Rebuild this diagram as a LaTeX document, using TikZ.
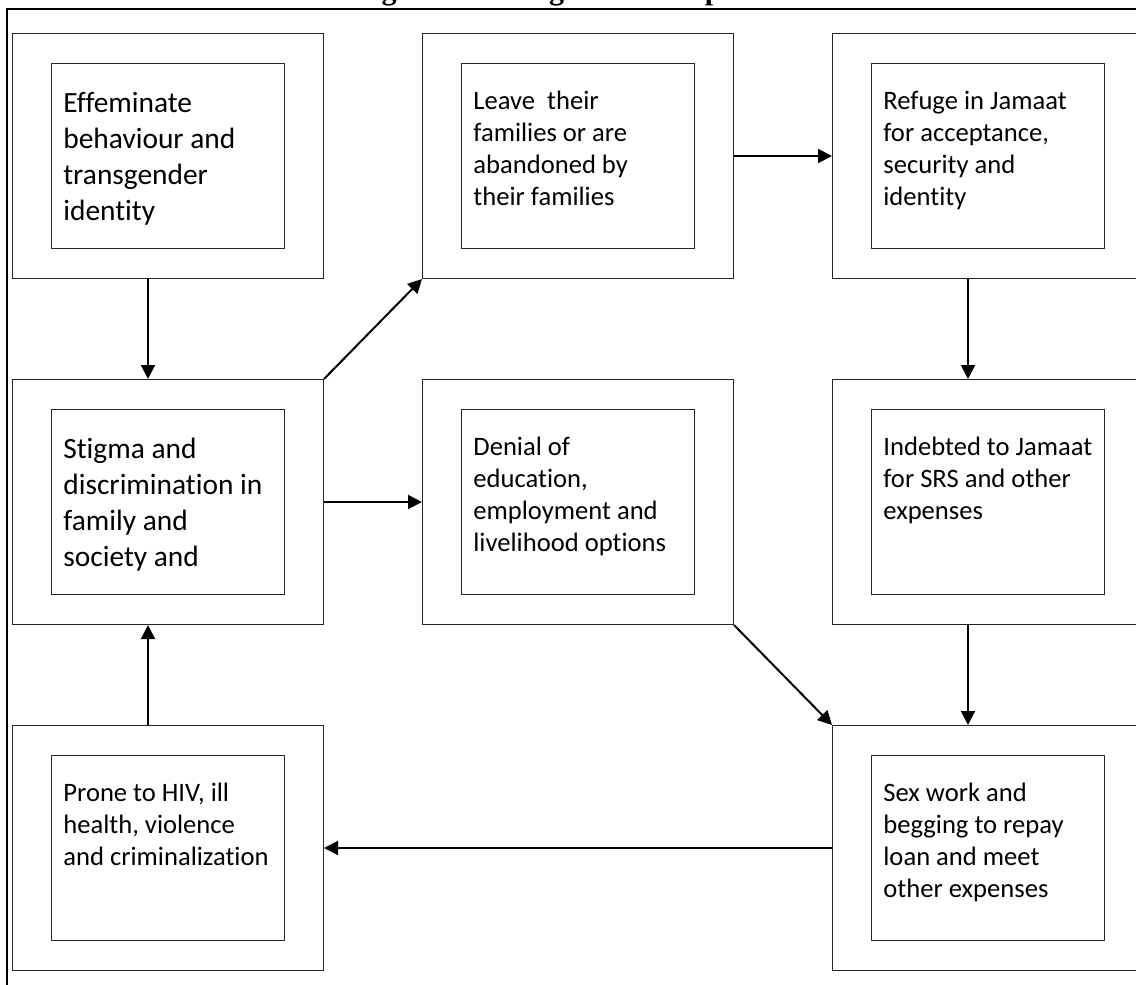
\documentclass[tikz,border=0pt]{standalone}
\usepackage{fontspec}
\setmainfont{Carlito}[Ligatures=CommonOff]
\newfontfamily\titlefont{Liberation Serif}
\usetikzlibrary{arrows.meta, positioning}

\begin{document}
\begin{tikzpicture}[
  x=0.5pt, y=0.5pt,
  node distance=50pt and 49pt,
  stageouter/.style={rectangle, draw=black!85, line width=0.5pt, minimum width=155.5pt, minimum height=122.5pt, inner sep=0pt},
  stageinner/.style={rectangle, draw=black!85, line width=0.5pt, minimum width=116.5pt, minimum height=92.5pt, inner sep=0pt},
  stagetext/.style={anchor=north west, inner sep=0pt, align=left, font={\fontsize{13.3}{16}\selectfont}},
  bigtext/.style={stagetext, font={\fontsize{14.7}{18}\selectfont}},
  flow/.style={-{Triangle[length=7pt, width=7pt]}, line width=1pt}
]
  \useasboundingbox (0,0) rectangle (1136,-985);
  \clip (0,0) rectangle (1136,-985);

  % Title and frame
  \node[anchor=base, inner sep=0pt, font={\titlefont\bfseries\fontsize{15}{18}\selectfont}] (title) at (568,0.5) {Diagram 1: Marginalisation process};
  \draw[line width=1pt] (7,-9) rectangle (1200,-1100);

  % Outer boxes
  \node[stageouter, anchor=north west] (eff) at (12,-33) {};
  \node[stageouter, right=of eff] (leave) {};
  \node[stageouter, right=of leave] (refuge) {};
  \node[stageouter, below=of eff] (stigma) {};
  \node[stageouter, below=of leave] (denial) {};
  \node[stageouter, below=of refuge] (indebt) {};
  \node[stageouter, below=of stigma] (prone) {};
  \node[stageouter, below=of indebt] (sexwork) {};

  % Inner boxes
  \foreach \n in {eff,leave,refuge,stigma,denial,indebt,prone,sexwork}
    \node[stageinner] (\n-in) at (\n.center) {};

  % Texts
  \node[bigtext] (eff-txt) at ([xshift=6pt, yshift=-14.3pt]eff-in.north west) {Effeminate\\behaviour and\\transgender\\identity};
  \node[stagetext] (leave-txt) at ([xshift=6pt, yshift=-14pt]leave-in.north west) {Leave\ \ their\\families or are\\abandoned by\\their families};
  \node[stagetext] (refuge-txt) at ([xshift=6pt, yshift=-14pt]refuge-in.north west) {Refuge in Jamaat\\for acceptance,\\security and\\identity};
  \node[bigtext] (stigma-txt) at ([xshift=6pt, yshift=-14.3pt]stigma-in.north west) {Stigma and\\discrimination in\\family and\\society and};
  \node[stagetext] (denial-txt) at ([xshift=6pt, yshift=-14pt]denial-in.north west) {Denial of\\education,\\employment and\\livelihood options};
  \node[stagetext] (indebt-txt) at ([xshift=6pt, yshift=-14pt]indebt-in.north west) {Indebted to Jamaat\\for SRS and other\\expenses};
  \node[stagetext] (prone-txt) at ([xshift=6pt, yshift=-14pt]prone-in.north west) {Prone to HIV, ill\\health, violence\\and criminalization};
  \node[stagetext] (sexwork-txt) at ([xshift=6pt, yshift=-14pt]sexwork-in.north west) {Sex work and\\begging to repay\\loan and meet\\other expenses};

  % Arrows
  \draw[flow] ([xshift=-10pt]eff.south) -- ([xshift=-10pt]stigma.north);
  \draw[flow] (stigma.north east) -- (leave.south west);
  \draw[flow] (stigma.east) -- (denial.west);
  \draw[flow] (leave.east) -- (refuge.west);
  \draw[flow] ([xshift=-10pt]refuge.south) -- ([xshift=-10pt]indebt.north);
  \draw[flow] ([xshift=-10pt]indebt.south) -- ([xshift=-10pt]sexwork.north);
  \draw[flow] (denial.south east) -- (sexwork.north west);
  \draw[flow] (sexwork.west) -- (prone.east);
  \draw[flow] ([xshift=-10pt]prone.north) -- ([xshift=-10pt]stigma.south);
\end{tikzpicture}
\end{document}
